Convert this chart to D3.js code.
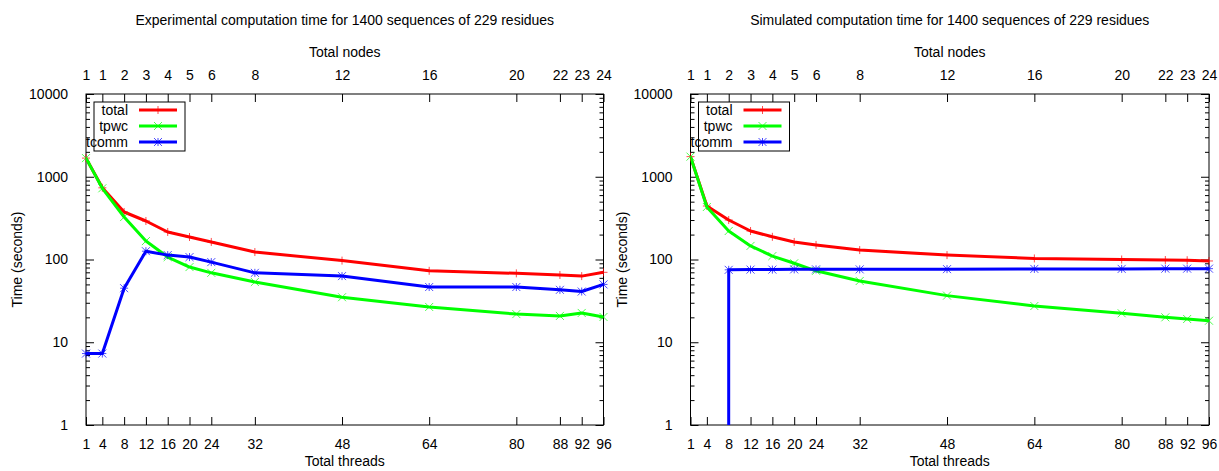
<!DOCTYPE html>
<html>
<head>
<meta charset="utf-8">
<script src="https://cdn.jsdelivr.net/npm/d3@7"></script>
<style>
  html, body { margin: 0; padding: 0; background: #fff; }
  svg { display: block; }
  text { font-family: "Liberation Sans", Arial, sans-serif; font-size: 14px; fill: #000; }
</style>
</head>
<body>
<svg id="chart" width="1219" height="471"></svg>
<script>
// ---------- data ----------
const threads = [1, 4, 8, 12, 16, 20, 24, 32, 48, 64, 80, 88, 92, 96];
const nodeLabels = ["1", "1", "2", "3", "4", "5", "6", "8", "12", "16", "20", "22", "23", "24"];
const yTicks = [1, 10, 100, 1000, 10000];
const seriesNames = ["total", "tpwc", "tcomm"];

const expTotal = [1680, 735, 375, 292, 215, 187, 163, 123, 97, 73, 68, 65, 63, 70];
const expTpwc  = [1680, 725, 326, 167, 107, 81, 69, 53.5, 35, 26.7, 21.9, 20.8, 22.6, 20.2];
const expTcomm = [7.3, 7.3, 45, 126, 113, 107, 93, 69, 63, 46.5, 46.5, 43, 41, 50];

const simTotal = [1750, 443, 300, 221, 188, 163, 150, 130, 113, 103, 100, 98.6, 98, 96];
const simTpwc  = [1750, 431, 221, 146, 110, 90, 73, 55, 36.6, 27.4, 22.4, 20, 19.1, 18.2];
const simTcomm = [0, 0, 75, 75.5, 75.5, 76, 76, 76, 76.5, 77, 77, 77.5, 77.5, 77.5];

const titles = [
  "Experimental computation time for 1400 sequences of 229 residues",
  "Simulated computation time for 1400 sequences of 229 residues"
];
const colors = ["#ff0000", "#00ff00", "#0000ff"];
const markers = ["plus", "cross", "star"];

// ---------- drawing ----------
const svg = d3.select("#chart");
const FS = 14;

const panels = [
  { x0: 86, x1: 603.5, data: [expTotal, expTpwc, expTcomm], title: titles[0] },
  { x0: 690.5, x1: 1209, data: [simTotal, simTpwc, simTcomm], title: titles[1] }
];
const yTop = 94, yBot = 425;

function markerPath(type, cx, cy, r) {
  const p = d3.path();
  if (type === "plus" || type === "star") {
    p.moveTo(cx - r, cy); p.lineTo(cx + r, cy);
    p.moveTo(cx, cy - r); p.lineTo(cx, cy + r);
  }
  if (type === "cross" || type === "star") {
    p.moveTo(cx - r, cy - r); p.lineTo(cx + r, cy + r);
    p.moveTo(cx - r, cy + r); p.lineTo(cx + r, cy - r);
  }
  return p.toString();
}

panels.forEach((pn, pi) => {
  const g = svg.append("g");
  const x = d3.scaleLinear().domain([1, 96]).range([pn.x0, pn.x1]);
  const y = d3.scaleLog().domain([1, 10000]).range([yBot, yTop]);
  const yPos = v => v > 0 ? y(v) : yBot + 1e6;
  const cx = (pn.x0 + pn.x1) / 2;

  // titles
  g.append("text").attr("x", cx).attr("y", 25).attr("text-anchor", "middle").text(pn.title);
  g.append("text").attr("x", cx).attr("y", 57).attr("text-anchor", "middle").text("Total nodes");
  g.append("text").attr("x", cx).attr("y", 466).attr("text-anchor", "middle").text("Total threads");
  g.append("text")
    .attr("transform", `translate(${pn.x0 - 64},${(yTop + yBot) / 2}) rotate(-90)`)
    .attr("text-anchor", "middle").text("Time (seconds)");

  // frame
  g.append("rect").attr("x", pn.x0).attr("y", yTop)
    .attr("width", pn.x1 - pn.x0).attr("height", yBot - yTop)
    .attr("fill", "none").attr("stroke", "#000").attr("stroke-width", 1);

  // bottom axis
  const bottomAxis = d3.axisBottom(x).tickValues(threads).tickSize(-8).tickPadding(14)
    .tickFormat(d3.format("d"));
  const gb = g.append("g").attr("transform", `translate(0,${yBot})`).call(bottomAxis);
  // top axis
  const topAxis = d3.axisTop(x).tickValues(threads).tickSize(-8).tickPadding(14)
    .tickFormat((d, i) => nodeLabels[i]);
  const gt = g.append("g").attr("transform", `translate(0,${yTop})`).call(topAxis);

  // y axes (major + minor)
  const minor = [];
  for (let e = 0; e < 4; e++) for (let m = 2; m <= 9; m++) minor.push(m * Math.pow(10, e));
  const leftAxis = d3.axisLeft(y).tickValues(yTicks).tickSize(-8).tickPadding(18)
    .tickFormat(d3.format("d"));
  const gl = g.append("g").attr("transform", `translate(${pn.x0},0)`).call(leftAxis);
  const gl2 = g.append("g").attr("transform", `translate(${pn.x0},0)`)
    .call(d3.axisLeft(y).tickValues(minor).tickSize(-4).tickFormat(""));
  const gr = g.append("g").attr("transform", `translate(${pn.x1},0)`)
    .call(d3.axisRight(y).tickValues(yTicks).tickSize(-8).tickFormat(""));
  const gr2 = g.append("g").attr("transform", `translate(${pn.x1},0)`)
    .call(d3.axisRight(y).tickValues(minor).tickSize(-4).tickFormat(""));

  [gb, gt, gl, gl2, gr, gr2].forEach(a => {
    a.select(".domain").remove();
    a.selectAll(".tick line").attr("stroke", "#000");
    a.selectAll("text").attr("font-family", "Liberation Sans, Arial, sans-serif")
      .attr("font-size", FS).attr("fill", "#000");
  });

  // clip
  const clipId = "clip" + pi;
  svg.append("clipPath").attr("id", clipId).append("rect")
    .attr("x", pn.x0).attr("y", yTop).attr("width", pn.x1 - pn.x0).attr("height", yBot - yTop);

  const line = d3.line().x((d, i) => x(threads[i])).y(d => yPos(d));

  pn.data.forEach((vals, si) => {
    g.append("path").datum(vals)
      .attr("d", line)
      .attr("fill", "none").attr("stroke", colors[si]).attr("stroke-width", 3)
      .attr("stroke-linejoin", "round")
      .attr("clip-path", `url(#${clipId})`);
    g.append("g").selectAll("path").data(vals.map((v, i) => ({ v, t: threads[i] })).filter(d => d.v > 0))
      .join("path")
      .attr("d", d => markerPath(markers[si], x(d.t), y(d.v), 4))
      .attr("fill", "none").attr("stroke", colors[si]).attr("stroke-width", 1).attr("opacity", 0.7);
  });

  // legend
  const lx = pn.x0 + 8, ly = 102;
  g.append("rect").attr("x", lx).attr("y", ly).attr("width", 91).attr("height", 49)
    .attr("fill", "#fff").attr("stroke", "#000").attr("stroke-width", 1);
  seriesNames.forEach((nm, si) => {
    const ry = ly + 8 + si * 16;
    g.append("text").attr("x", lx + 34).attr("y", ry).attr("dy", "0.35em")
      .attr("text-anchor", "end").text(nm);
    g.append("line").attr("x1", lx + 45).attr("x2", lx + 83).attr("y1", ry).attr("y2", ry)
      .attr("stroke", colors[si]).attr("stroke-width", 3);
    g.append("path").attr("d", markerPath(markers[si], lx + 64, ry, 4))
      .attr("fill", "none").attr("stroke", colors[si]).attr("stroke-width", 1).attr("opacity", 0.7);
  });
});
</script>
</body>
</html>
